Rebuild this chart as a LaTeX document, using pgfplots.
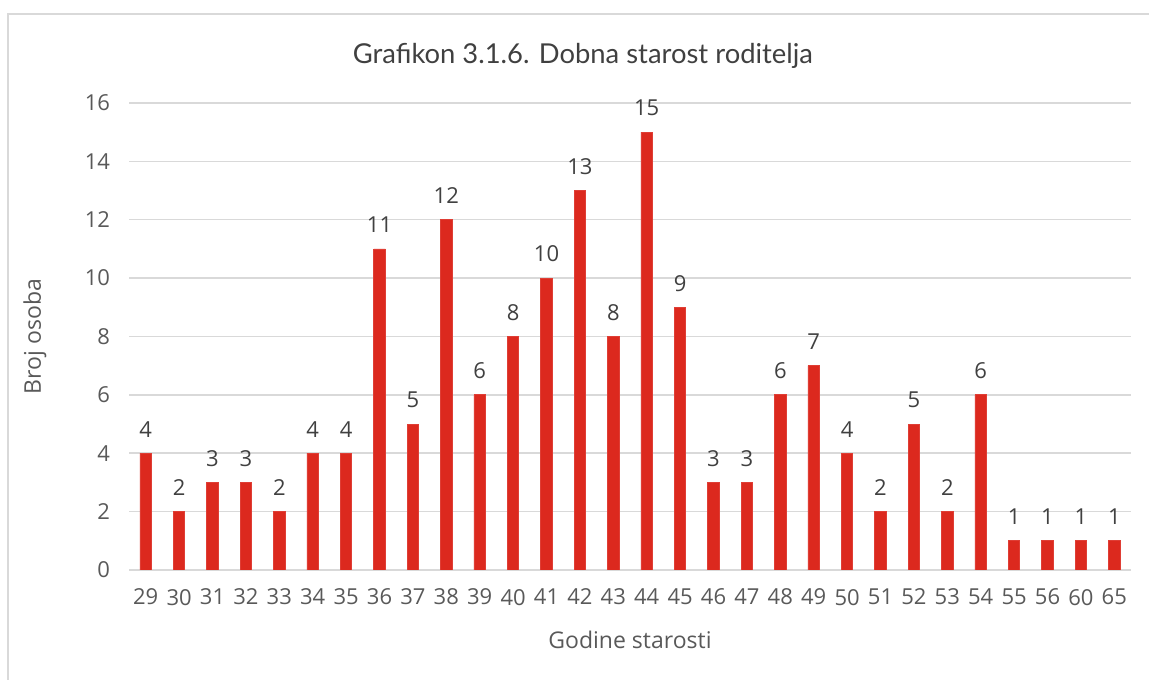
\documentclass[border=0pt]{standalone}
\usepackage{fontspec}
\setmainfont{Open Sans}
\newfontfamily\titlefont{Lato}
\usepackage{pgfplots}
\pgfplotsset{compat=1.18}
\definecolor{BarRed}{RGB}{220,41,30}
\definecolor{GridGray}{RGB}{217,217,217}
\definecolor{TickGray}{RGB}{89,89,89}
\definecolor{LabelGray}{RGB}{64,64,64}

\begin{document}
\begin{tikzpicture}
% picture size 1149 x 679 px, 1 px = 0.5 pt
\path[use as bounding box] (0,0) rectangle (574.5pt,339.5pt);
\begin{scope}
  \clip (0,0) rectangle (574.5pt,339.5pt);
  \draw[GridGray, line width=0.75pt] (4pt,-10pt) rectangle (590pt,332.5pt);
\end{scope}
\begin{axis}[
    at={(64.5pt,54.5pt)},
    anchor=south west,
    scale only axis,
    width=501pt,
    height=233.5pt,
    ybar,
    bar width=5.75pt,
    xmin=-0.5, xmax=29.5,
    ymin=0, ymax=16,
    ytick={0,2,...,16},
    xtick={0,...,29},
    xticklabels={29,30,31,32,33,34,35,36,37,38,39,40,41,42,43,44,45,46,47,48,49,50,51,52,53,54,55,56,60,65},
    axis line style={draw=none},
    major tick length=0pt,
    ymajorgrids,
    major grid style={draw=GridGray, line width=0.75pt},
    tick label style={font=\fontsize{11}{13}\selectfont, text=TickGray},
    /pgf/number format/assume math mode=true,
    yticklabel style={xshift=-6pt},
    xticklabel style={yshift=-6pt},
    title={\titlefont Grafikon 3.1.6. Dobna starost roditelja},
    title style={at={(axis description cs:0.453,1.076)}, anchor=center,
        font=\fontsize{13.7}{16}\selectfont, text=LabelGray},
    xlabel={Godine starosti},
    ylabel={Broj osoba},
    label style={font=\fontsize{11.5}{13}\selectfont, text=TickGray},
    xlabel style={at={(axis description cs:0.5,-0.15)}, anchor=center},
    ylabel style={at={(axis description cs:-0.094,0.5)}, anchor=center},
    nodes near coords,
    every node near coord/.append style={font=\fontsize{11}{13}\selectfont,
        text=LabelGray, yshift=4.5pt},
]
\addplot[fill=BarRed, draw=BarRed!90!white] coordinates {
    (0,4) (1,2) (2,3) (3,3) (4,2) (5,4) (6,4) (7,11) (8,5) (9,12)
    (10,6) (11,8) (12,10) (13,13) (14,8) (15,15) (16,9) (17,3) (18,3) (19,6)
    (20,7) (21,4) (22,2) (23,5) (24,2) (25,6) (26,1) (27,1) (28,1) (29,1)
};
\end{axis}
\end{tikzpicture}
\end{document}
